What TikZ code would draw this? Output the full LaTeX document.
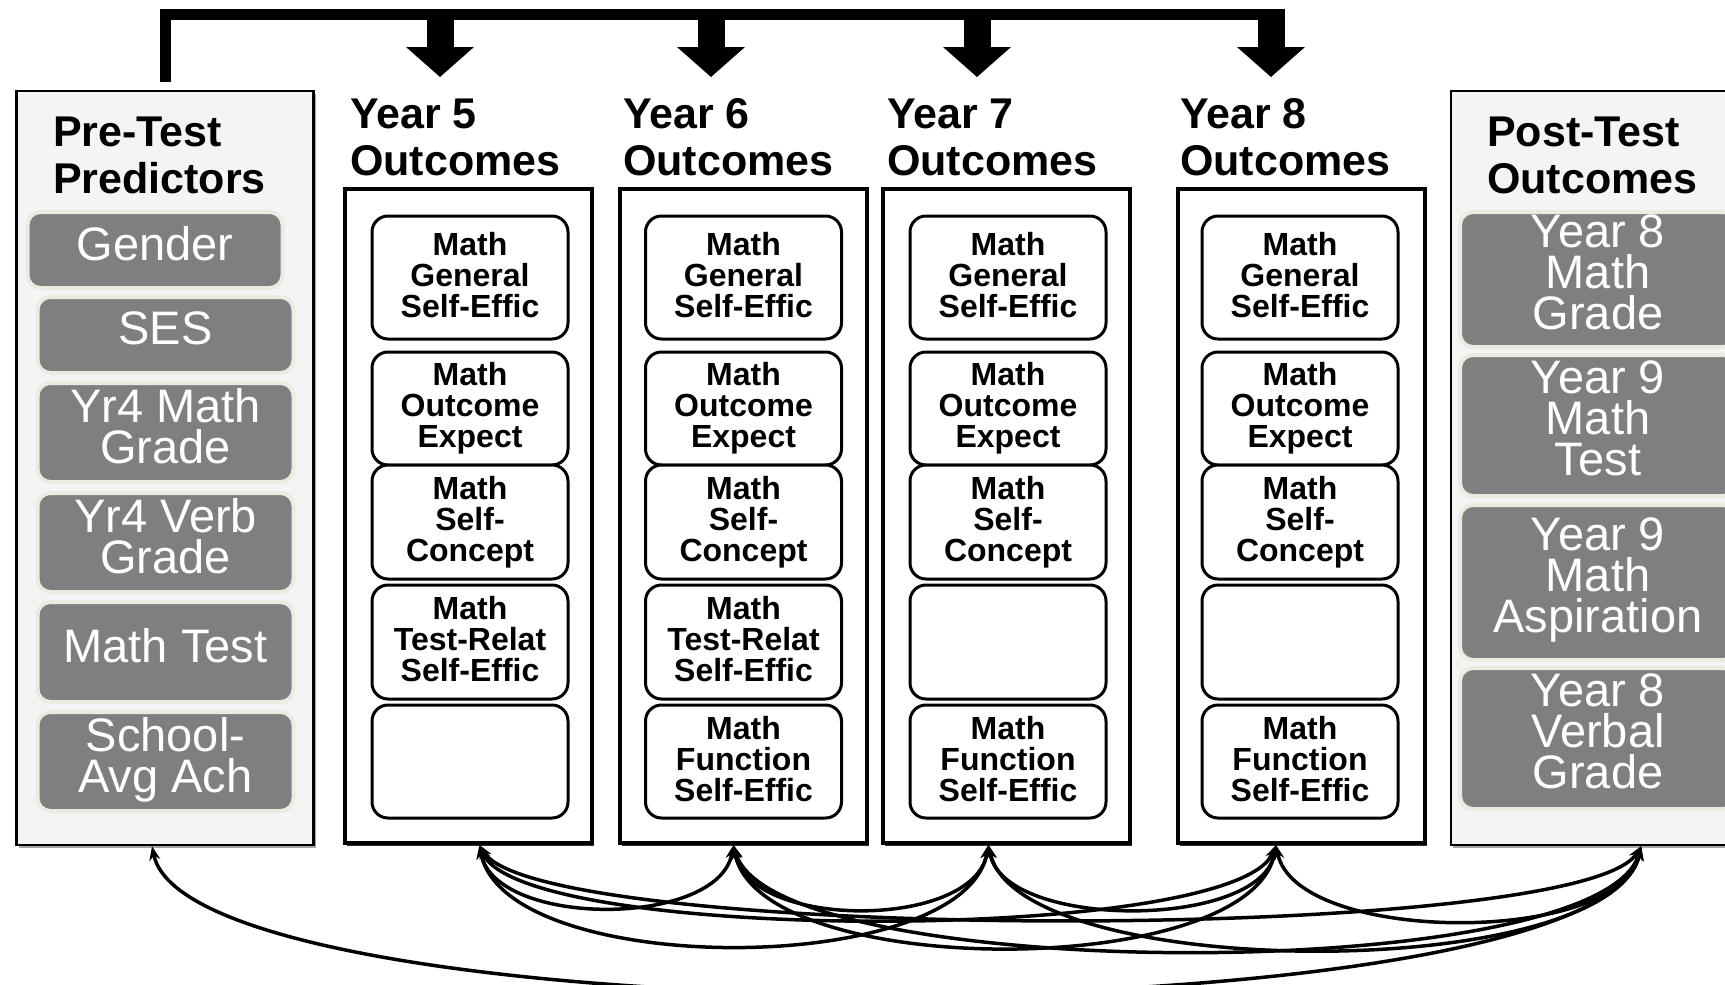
\documentclass[tikz,border=0pt]{standalone}
\usepackage{fontspec}
\setmainfont{Liberation Sans}
\usepackage{tikz}
\usetikzlibrary{
  arrows.meta,
  shadows,
  positioning
}
\definecolor{boxgray}{HTML}{7F7F7F}
\definecolor{predborder}{HTML}{ECEBDF}
\definecolor{groupfill}{HTML}{F4F4F4}

\begin{document}
\begin{tikzpicture}[x=1pt,y=-1pt,
      group/.style={
         rectangle,
         draw=black,
         line width=2.5pt,
         fill=groupfill,
         drop shadow={shadow xshift=2pt,shadow yshift=-3pt,opacity=1,fill=black!35},
         inner sep=0pt
      },
      frame/.style={
         rectangle,
         draw=black,
         line width=4pt,
         fill=white,
         drop shadow={shadow xshift=2pt,shadow yshift=-3pt,opacity=1,fill=black!80},
         inner sep=0pt,
         minimum width=247pt,
         minimum height=654pt
      },
      heading/.style={
         anchor=west,
         align=left,
         inner sep=0pt,
         font=\bfseries\fontsize{43}{47}\selectfont
      },
      predictor/.style={
         rectangle,
         rounded corners=13pt,
         draw=predborder,
         line width=4pt,
         fill=boxgray,
         text=white,
         align=center,
         inner sep=0pt,
         font=\fontsize{47}{41}\selectfont,
         execute at end node={\rule[-14pt]{0pt}{0pt}}
      },
      outcome/.style={
         rectangle,
         rounded corners=16pt,
         draw=black,
         line width=3pt,
         fill=white,
         align=center,
         inner sep=0pt,
         minimum width=196pt,
         font=\bfseries\fontsize{32}{31}\selectfont,
         execute at end node={\rule[-6pt]{0pt}{0pt}}
      },
      bracket/.style={line width=11pt,shorten <=8pt},
      bigarrow/.style={line width=27pt,-{Triangle[length=30pt,width=68pt,line width=0pt]}},
      link/.style={line width=3.5pt,{Stealth[length=14pt,width=11pt]}-{Stealth[length=14pt,width=11pt]}}
    ]
    \path[fill=white,use as bounding box] (0,0) rectangle (1725,985);

    % pre-test predictors
    \node (n0) [group, minimum width=297pt, minimum height=754pt] at (165,468) {};
    \node (h0) [heading] at (53,155) {Pre-Test\\Predictors};
    \node (n01) [predictor, minimum width=255pt, minimum height=76pt] at (155,250) {Gender};
    \node (n02) [predictor, minimum width=256pt, minimum height=76pt] at (165.5,335) {SES};
    \node (n03) [predictor, minimum width=256pt, minimum height=99pt] at (165.5,432.5) {Yr4 Math\\Grade};
    \node (n04) [predictor, minimum width=256pt, minimum height=99pt] at (165.5,542.5) {Yr4 Verb\\Grade};
    \node (n05) [predictor, minimum width=256pt, minimum height=100pt] at (165.5,652) {Math Test};
    \node (n06) [predictor, minimum width=256pt, minimum height=99pt] at (165.5,761.5) {School-\\Avg Ach};

    % year 5
    \node (n5) [frame] at (468.5,516) {};
    \node (h5) [heading] at (350,137) {Year 5\\Outcomes};
    \node (n51) [outcome, minimum height=123pt] at (470,277.5) {Math\\General\\Self-Effic};
    \node (n52) [outcome, minimum height=113pt] at (470,408.5) {Math\\Outcome\\Expect};
    \node (n53) [outcome, minimum height=114pt] at (470,522) {Math\\Self-\\Concept};
    \node (n54) [outcome, minimum height=114pt] at (470,642) {Math\\Test-Relat\\Self-Effic};
    \node (n55) [outcome, minimum height=113pt] at (470,761.5) {};

    % year 6
    \node (n6) [frame] at (743.5,516) {};
    \node (h6) [heading] at (623,137) {Year 6\\Outcomes};
    \node (n61) [outcome, minimum height=123pt] at (743.5,277.5) {Math\\General\\Self-Effic};
    \node (n62) [outcome, minimum height=113pt] at (743.5,408.5) {Math\\Outcome\\Expect};
    \node (n63) [outcome, minimum height=114pt] at (743.5,522) {Math\\Self-\\Concept};
    \node (n64) [outcome, minimum height=114pt] at (743.5,642) {Math\\Test-Relat\\Self-Effic};
    \node (n65) [outcome, minimum height=113pt] at (743.5,761.5) {Math\\Function\\Self-Effic};

    % year 7
    \node (n7) [frame] at (1006.5,516) {};
    \node (h7) [heading] at (887,137) {Year 7\\Outcomes};
    \node (n71) [outcome, minimum height=123pt] at (1008,277.5) {Math\\General\\Self-Effic};
    \node (n72) [outcome, minimum height=113pt] at (1008,408.5) {Math\\Outcome\\Expect};
    \node (n73) [outcome, minimum height=114pt] at (1008,522) {Math\\Self-\\Concept};
    \node (n74) [outcome, minimum height=114pt] at (1008,642) {};
    \node (n75) [outcome, minimum height=113pt] at (1008,761.5) {Math\\Function\\Self-Effic};

    % year 8
    \node (n8) [frame] at (1301,516) {};
    \node (h8) [heading] at (1180,137) {Year 8\\Outcomes};
    \node (n81) [outcome, minimum height=123pt] at (1300,277.5) {Math\\General\\Self-Effic};
    \node (n82) [outcome, minimum height=113pt] at (1300,408.5) {Math\\Outcome\\Expect};
    \node (n83) [outcome, minimum height=114pt] at (1300,522) {Math\\Self-\\Concept};
    \node (n84) [outcome, minimum height=114pt] at (1300,642) {};
    \node (n85) [outcome, minimum height=113pt] at (1300,761.5) {Math\\Function\\Self-Effic};

    % post-test outcomes
    \node (n9) [group, minimum width=294pt, minimum height=754pt] at (1598,468) {};
    \node (h9) [heading] at (1487,155) {Post-Test\\Outcomes};
    \node (n91) [predictor, minimum width=276pt, minimum height=135pt] at (1598,279.5) {Year 8\\Math\\Grade};
    \node (n92) [predictor, minimum width=276pt, minimum height=141pt] at (1598,425.5) {Year 9\\Math\\Test};
    \node (n93) [predictor, minimum width=276pt, minimum height=155pt] at (1598,582.5) {Year 9\\Math\\Aspiration};
    \node (n94) [predictor, minimum width=276pt, minimum height=141pt] at (1598,738.5) {Year 8\\Verbal\\Grade};

    % top bracket
    \coordinate (b1) at (1285,14);
    \coordinate (t5) at (440,14);  \coordinate (a5) at (440,77);
    \coordinate (t6) at (711,14);  \coordinate (a6) at (711,77);
    \coordinate (t7) at (977,14);  \coordinate (a7) at (977,77);
    \coordinate (t8) at (1271,14); \coordinate (a8) at (1271,77);
    \draw[bracket] (n0.north) |- (b1);
    \draw[bigarrow] (t5) -- (a5);
    \draw[bigarrow] (t6) -- (a6);
    \draw[bigarrow] (t7) -- (a7);
    \draw[bigarrow] (t8) -- (a8);

    % correlations
    \coordinate (e0) at ([xshift=-13pt]n0.south);
    \coordinate (e5) at ([xshift=11pt]n5.south);
    \coordinate (e6) at ([xshift=-10pt]n6.south);
    \coordinate (e7) at ([xshift=-18pt]n7.south);
    \coordinate (e8) at ([xshift=-25pt]n8.south);
    \coordinate (e9) at ([xshift=43pt]n9.south);
    \draw[link] (e5) .. controls +(15,83) and +(-15,83) .. (e6);
    \draw[link] (e5) .. controls +(25,134) and +(-25,134) .. (e7);
    \draw[link] (e5) .. controls +(40,99) and +(-40,99) .. (e8);
    \draw[link] (e5) .. controls +(60,98) and +(-60,98) .. (e9);
    \draw[link] (e6) .. controls +(15,85) and +(-15,85) .. (e7);
    \draw[link] (e6) .. controls +(25,136) and +(-25,136) .. (e8);
    \draw[link] (e6) .. controls +(40,140) and +(-40,140) .. (e9);
    \draw[link] (e7) .. controls +(15,85) and +(-15,85) .. (e8);
    \draw[link] (e7) .. controls +(30,138) and +(-30,138) .. (e9);
    \draw[link] (e8) .. controls +(20,100) and +(-20,100) .. (e9);
    \draw[link] (e0) .. controls +(40,195) and +(-40,195) .. (e9);
\end{tikzpicture}
\end{document}
